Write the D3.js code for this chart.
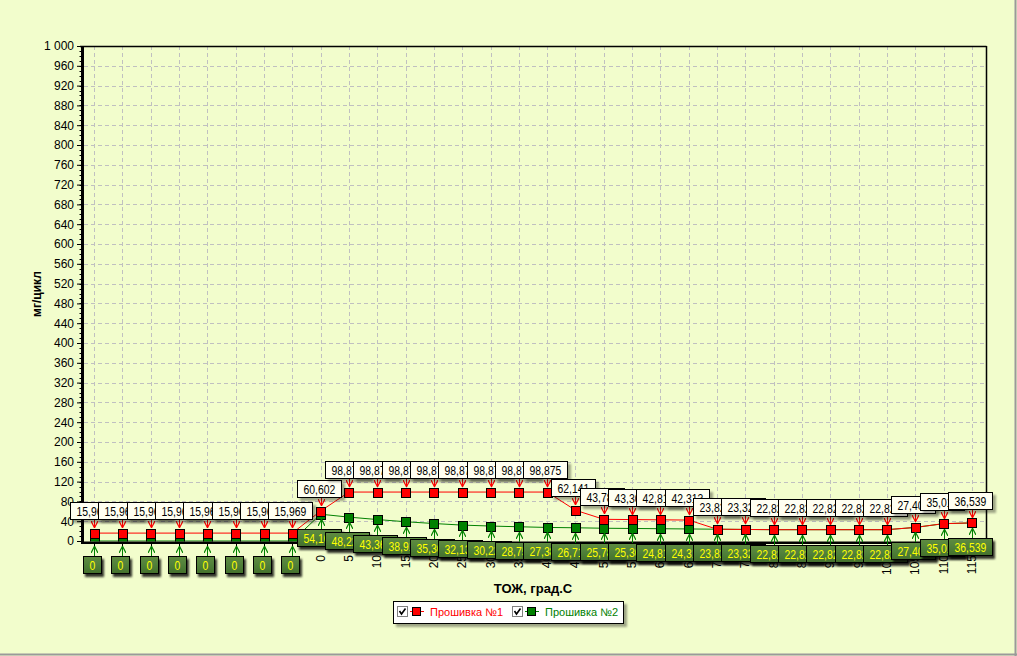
<!DOCTYPE html>
<html><head><meta charset="utf-8">
<script src="https://cdn.jsdelivr.net/npm/d3@7"></script>
<style>
html,body{margin:0;padding:0;background:#F2FDCC;}
svg{display:block;}
</style></head>
<body>
<svg id="chart" width="1017" height="656"></svg>
<script>
// ---- data ----
const xLabels = ["","","","","","","","","0","5","10","15","20","25","30","35","40","45","50","55","60","65","70","75","80","85","90","95","100","105","110","115"];
const series1 = [15.969,15.969,15.969,15.969,15.969,15.969,15.969,15.969,60.602,98.875,98.875,98.875,98.875,98.875,98.875,98.875,98.875,62.141,43.785,43.306,42.813,42.313,23.826,23.328,22.826,22.826,22.826,22.826,22.826,27.406,35.012,36.539];
const series2 = [0,0,0,0,0,0,0,0,54.108,48.226,43.362,38.914,35.306,32.134,30.226,28.759,27.386,26.713,25.786,25.306,24.813,24.313,23.826,23.328,22.826,22.826,22.826,22.826,22.826,27.406,35.012,36.539];
const seriesNames = ["Прошивка №1","Прошивка №2"];
const yTicks = d3.range(0, 1001, 40);
const yTitle = "мг/цикл";
const xTitle = "ТОЖ, град.С";

// ---- layout ----
const W = 1017, H = 656;
const L = 80, R = 986, T = 46, B = 541;
const svg = d3.select("#chart");

const lblFont = "'Liberation Sans', Arial, sans-serif";
const lblSize = 13;
const squeeze = 0.8;
const axFont = "'Liberation Sans', Arial, sans-serif";

const idx = xLabels.map((d,i)=>i);
const x = d3.scalePoint().domain(idx).range([L, R]).padding(0.5);
const y = d3.scaleLinear().domain([0, 1000]).range([B, T]);

const fmt = v => v === 0 ? "0" : v.toFixed(3).replace(".", ",");

// defs
const defs = svg.append("defs");
defs.append("clipPath").attr("id","plotclip").append("rect")
  .attr("x", L).attr("y", T).attr("width", R-L).attr("height", B-T+0.5);
const f1 = defs.append("filter").attr("id","shGray").attr("x","-20%").attr("y","-30%").attr("width","150%").attr("height","180%");
f1.append("feDropShadow").attr("dx",3).attr("dy",3).attr("stdDeviation",1.2).attr("flood-color","#000").attr("flood-opacity",0.35);
const f2 = defs.append("filter").attr("id","shDark").attr("x","-20%").attr("y","-30%").attr("width","150%").attr("height","180%");
f2.append("feDropShadow").attr("dx",2).attr("dy",3).attr("stdDeviation",1.3).attr("flood-color","#000").attr("flood-opacity",0.8);
const g1 = defs.append("linearGradient").attr("id","gGreen").attr("x1",0).attr("y1",0).attr("x2",0).attr("y2",1);
g1.append("stop").attr("offset","0%").attr("stop-color","#5F8C40");
g1.append("stop").attr("offset","50%").attr("stop-color","#50803A");
g1.append("stop").attr("offset","100%").attr("stop-color","#44702C");
defs.append("marker").attr("id","arRed").attr("viewBox","0 0 8 8").attr("refX",7).attr("refY",4)
  .attr("markerWidth",7).attr("markerHeight",7).attr("markerUnits","userSpaceOnUse").attr("orient","auto")
  .append("path").attr("d","M0,0L8,4L0,8").attr("fill","none").attr("stroke","#FF0000").attr("stroke-width",1.3);
defs.append("marker").attr("id","arGreen").attr("viewBox","0 0 8 8").attr("refX",7).attr("refY",4)
  .attr("markerWidth",7).attr("markerHeight",7).attr("markerUnits","userSpaceOnUse").attr("orient","auto")
  .append("path").attr("d","M0,0L8,4L0,8").attr("fill","none").attr("stroke","#008000").attr("stroke-width",1.3);

// background
svg.append("rect").attr("width",W).attr("height",H).attr("fill","#F2FDCC");
svg.append("line").attr("x1",W-1.5).attr("x2",W-1.5).attr("y1",0).attr("y2",H).attr("stroke","#9A9A9A").attr("stroke-width",2);
svg.append("line").attr("x1",0).attr("x2",W).attr("y1",H-1.5).attr("y2",H-1.5).attr("stroke","#9A9A9A").attr("stroke-width",2);

// grid
const grid = svg.append("g").attr("stroke","#C0C0C0").attr("stroke-dasharray","4,3").attr("stroke-width",1);
grid.selectAll("line.h").data(yTicks.filter(d=>d>0 && d<1000)).join("line")
  .attr("x1",L+4).attr("x2",R).attr("y1",d=>Math.round(y(d))+0.5).attr("y2",d=>Math.round(y(d))+0.5);
grid.selectAll("line.v").data(idx).join("line")
  .attr("x1",d=>Math.round(x(d))+0.5).attr("x2",d=>Math.round(x(d))+0.5).attr("y1",T).attr("y2",B);

// frame top/right
svg.append("line").attr("x1",L).attr("x2",R+0.5).attr("y1",T+0.5).attr("y2",T+0.5).attr("stroke","#000").attr("stroke-width",1.5);
svg.append("line").attr("x1",R+0.5).attr("x2",R+0.5).attr("y1",T).attr("y2",B+2).attr("stroke","#000").attr("stroke-width",1.5);

// series
const plot = svg.append("g").attr("clip-path","url(#plotclip)");
const line = d3.line().x((d,i)=>x(i)).y(d=>y(d));
plot.append("path").datum(series2).attr("d",line).attr("fill","none").attr("stroke","#008000").attr("stroke-width",1);
plot.append("path").datum(series1).attr("d",line).attr("fill","none").attr("stroke","#FF0000").attr("stroke-width",1);
const ms = 9;
plot.selectAll("rect.m2").data(series2).join("rect")
  .attr("x",(d,i)=>Math.round(x(i)-ms/2)+0.5).attr("y",d=>Math.round(y(d)-ms/2)+0.5)
  .attr("width",ms).attr("height",ms).attr("fill","#008000").attr("stroke","#000");
plot.selectAll("rect.m1").data(series1).join("rect")
  .attr("x",(d,i)=>Math.round(x(i)-ms/2)+0.5).attr("y",d=>Math.round(y(d)-ms/2)+0.5)
  .attr("width",ms).attr("height",ms).attr("fill","#FF0000").attr("stroke","#000");

// axes
const yAxis = d3.axisLeft(y).tickValues(yTicks).tickSize(4).tickPadding(3)
  .tickFormat(d => d >= 1000 ? "1 000" : String(d));
const gy = svg.append("g").attr("transform",`translate(${L+1},0)`).call(yAxis);
gy.select(".domain").remove();
gy.selectAll("text").attr("font-family",axFont).attr("font-size",12).attr("fill","#000");
// minor ticks
svg.append("g").selectAll("line").data(d3.range(0,1001,10)).join("line")
  .attr("x1",L-0.5).attr("x2",L+1).attr("y1",d=>Math.round(y(d))+0.5).attr("y2",d=>Math.round(y(d))+0.5)
  .attr("stroke","#000");
svg.append("rect").attr("x",L+1).attr("y",T).attr("width",3).attr("height",B-T+3).attr("fill","#000");
svg.append("rect").attr("x",L+1).attr("y",B+0.5).attr("width",R-L).attr("height",2.5).attr("fill","#000");
// x ticks
svg.append("g").selectAll("line").data(idx).join("line")
  .attr("x1",d=>Math.round(x(d))+0.5).attr("x2",d=>Math.round(x(d))+0.5).attr("y1",B+3).attr("y2",B+6).attr("stroke","#000");
svg.append("g").selectAll("text").data(idx).join("text")
  .attr("transform",d=>`translate(${x(d)+4},555) rotate(-90)`)
  .attr("text-anchor","end").attr("font-family",axFont).attr("font-size",12).attr("fill","#000")
  .text(d=>xLabels[d]);

// titles
svg.append("text").attr("transform","translate(41,294) rotate(-90)").attr("text-anchor","middle")
  .attr("font-family",axFont).attr("font-weight","bold").attr("font-size",12).text(yTitle);
svg.append("text").attr("x",533).attr("y",593).attr("text-anchor","middle")
  .attr("font-family",axFont).attr("font-weight","bold").attr("font-size",13).text(xTitle);

function addLabel(parent, v, px, boxTop, fill, filter, color){
  const g = parent.append("g");
  const r = g.append("rect").attr("fill",fill).attr("stroke","#000").attr("filter",filter);
  const t = g.append("text").attr("font-family",lblFont).attr("font-size",lblSize).attr("fill",color)
    .attr("text-anchor","start").text(fmt(v));
  const tw = t.node().getComputedTextLength() * squeeze;
  t.attr("textLength", tw).attr("lengthAdjust","spacingAndGlyphs");
  const w = Math.round(tw + 12), h = 17;
  const bx = Math.round(px - w/2 - 2);
  r.attr("x",bx+0.5).attr("y",boxTop+0.5).attr("width",w).attr("height",h);
  t.attr("x",bx + 6.5).attr("y",boxTop + 14);
}

// labels series1 (above)
const lab1 = svg.append("g");
series1.forEach((v,i)=>{
  const px = x(i), py = Math.round(y(v));
  lab1.append("line").attr("x1",Math.round(px)+0.5).attr("x2",Math.round(px)+0.5)
    .attr("y1",py-14).attr("y2",py-6).attr("stroke","#FF0000").attr("marker-end","url(#arRed)");
  addLabel(lab1, v, px, py-14-17, "#FFFFF2", "url(#shGray)", "#000");
});

// labels series2 (below)
const lab2 = svg.append("g");
series2.forEach((v,i)=>{
  const px = x(i), py = Math.round(y(v));
  lab2.append("line").attr("x1",Math.round(px)+0.5).attr("x2",Math.round(px)+0.5)
    .attr("y1",py+15).attr("y2",py+6).attr("stroke","#008000").attr("marker-end","url(#arGreen)");
  addLabel(lab2, v, px, py+15, "url(#gGreen)", "url(#shDark)", "#FFFF00");
});

// legend
const lg = svg.append("g");
lg.append("rect").attr("x",393.5).attr("y",601.5).attr("width",230).attr("height",22)
  .attr("fill","#fff").attr("stroke","#000").attr("filter","url(#shGray)");
const legItems = [{name:seriesNames[0], color:"#FF0000", cx:397, tx:430},{name:seriesNames[1], color:"#008000", cx:512, tx:545}];
legItems.forEach(it=>{
  lg.append("rect").attr("x",it.cx+0.5).attr("y",606.5).attr("width",10).attr("height",10).attr("fill","#fff").attr("stroke","#808080");
  lg.append("path").attr("d",`M${it.cx+2.5},${611}L${it.cx+4.5},${614}L${it.cx+8.5},${608.5}`).attr("fill","none").attr("stroke","#000").attr("stroke-width",1.6);
  lg.append("line").attr("x1",it.cx+13).attr("x2",it.cx+27).attr("y1",611.5).attr("y2",611.5).attr("stroke",it.color);
  lg.append("rect").attr("x",it.cx+15.5).attr("y",607.5).attr("width",8).attr("height",8).attr("fill",it.color).attr("stroke","#000");
  lg.append("text").attr("x",it.tx).attr("y",616).attr("font-family",axFont).attr("font-size",11).attr("fill",it.color).text(it.name);
});
</script>
</body></html>
